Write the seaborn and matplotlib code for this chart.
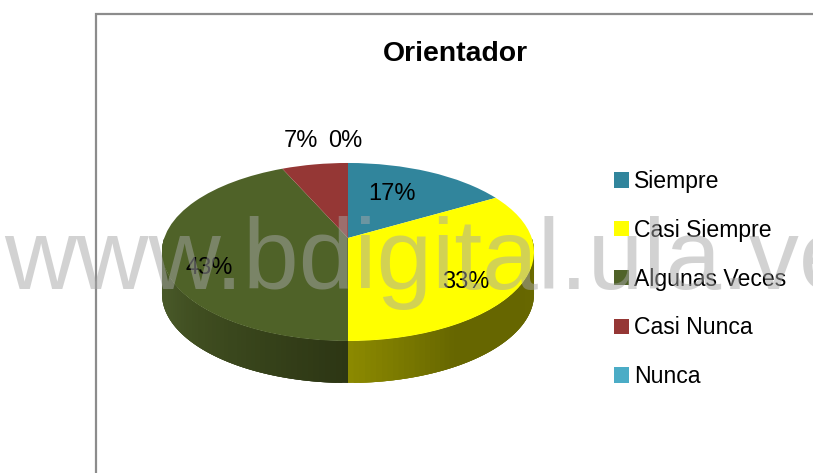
import numpy as np
import matplotlib
matplotlib.use("Agg")
import matplotlib.pyplot as plt
from matplotlib.transforms import Transform
import seaborn as sns

title = "Orientador"
categories = ["Siempre", "Casi Siempre", "Algunas Veces", "Casi Nunca", "Nunca"]
percent = [16.7, 33.3, 43.3, 6.7, 0.0]
slice_colors = ["#31859C", "#FFFF00", "#4F6228", "#953735", "#4BACC6"]
watermark = "www.bdigital.ula.ve"

# pixel layout of the tilted pie
CX, CY = 348, 252
RX, RY = 183.7, 89
LIFT = 14
PERSP = 0.157
DEPTH = 42
label_xy = [(392, 194), (466, 282), (209, 268), (301, 141), (345, 141)]

sns.set_theme(style="white")
plt.rcParams["font.family"] = ["Liberation Sans", "DejaVu Sans"]


def tilt(x, y):
    w = 1 + PERSP * y
    return CX + RX * x / w, CY - (RY * y + LIFT) / w


class Tilt(Transform):
    input_dims = 2
    output_dims = 2

    def transform_non_affine(self, values):
        px, py = tilt(values[:, 0], values[:, 1])
        return np.column_stack([px, py])


def draw_wall(ax, start, stop, shades):
    # side of the disc as thin strips, each one lapping over the next to hide seams
    n = 60
    angles = np.radians(np.linspace(start, stop, n + 1))
    colors = sns.blend_palette(shades, n_colors=n)
    px, py = tilt(np.sin(angles), np.cos(angles))
    for i in range(n):
        j = min(i + 3, n)
        ax.fill(np.r_[px[i:j + 1], px[i:j + 1][::-1]],
                np.r_[py[i:j + 1], py[i:j + 1][::-1] + DEPTH],
                color=colors[i], lw=0, zorder=1)


fig = plt.figure(figsize=(8.13, 4.73), dpi=100)
ax = fig.add_axes([0, 0, 1, 1])

wedges, _, autotexts = ax.pie(percent, colors=sns.color_palette(slice_colors),
                              startangle=90, counterclock=False, radius=1,
                              autopct="%.0f%%", wedgeprops={"linewidth": 0})
tilt_data = Tilt() + ax.transData
for w in wedges:
    w.set_transform(tilt_data)
    w.set_zorder(3)
for t, pos in zip(autotexts, label_xy):
    t.set_position(pos)
    t.set_fontsize(17)
    t.set_color("black")
    t.set_zorder(4)

ax.set_aspect("auto")
ax.set_xlim(0, 813)
ax.set_ylim(473, 0)
ax.axis("off")

# slice boundaries, clockwise from the top; only the front half shows a wall
edges = np.cumsum([0] + percent) * 3.6
draw_wall(ax, edges[2], max(edges[1], 90), ["#8B8900", "#666600", "#666600", "#6B6B00"])
draw_wall(ax, edges[2], min(edges[3], 270), ["#2D3614", "#36421A", "#3F4D20", "#485828", "#485828"])

ax.plot([96, 96, 813], [473, 14, 14], color="#8C8C8C", lw=1.6, zorder=2,
        solid_joinstyle="miter")
ax.text(455.5, 54, title, fontsize=20.4, fontweight="bold", ha="center",
        va="center", color="black", zorder=4)

ax.legend(wedges, categories, loc="upper left", bbox_to_anchor=(614, 170),
          bbox_transform=ax.transData, frameon=False, fontsize=16.6,
          borderpad=0, borderaxespad=0, handlelength=0.65, handleheight=0.65,
          handletextpad=0.22, labelspacing=1.12, labelcolor="black")

ax.text(4, 289, watermark, fontsize=72, color="#A6A6A6", alpha=0.5,
        ha="left", va="baseline", zorder=10)

fig.savefig("out.png", dpi=100)
